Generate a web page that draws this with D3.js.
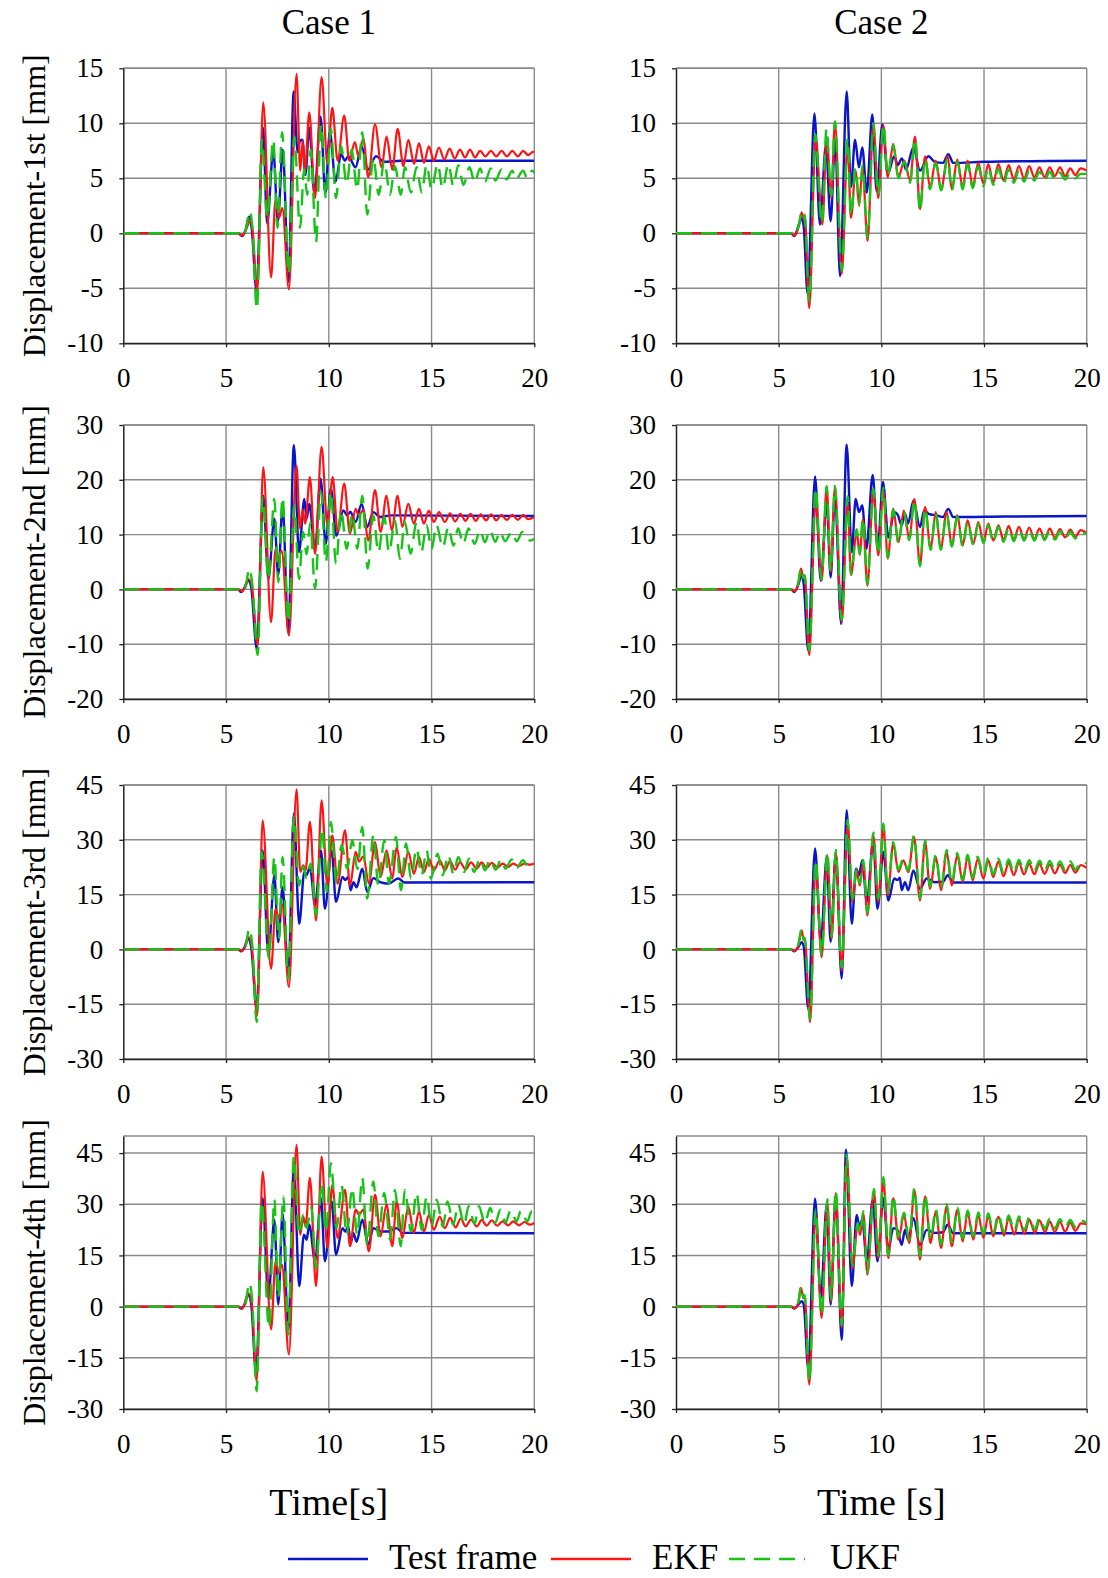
<!DOCTYPE html>
<html>
<head>
<meta charset="utf-8">
<script src="https://cdn.jsdelivr.net/npm/d3@7"></script>
<style>
  body { margin: 0; background: #fff; }
  svg { display: block; }
  text { font-family: "Liberation Serif", "Times New Roman", serif; fill: #000; }
</style>
</head>
<body>
<svg id="chart" width="1108" height="1578"></svg>
<script>
// ---- labels and ticks ----
const caseTitles = ["Case 1", "Case 2"];
const timeLabels = ["Time[s]", "Time [s]"];
const storyLabels = ["Displacement-1st [mm]", "Displacement-2nd [mm]", "Displacement-3rd [mm]", "Displacement-4th [mm]"];
const seriesNames = ["Test frame", "EKF", "UKF"];
const xTicks = [0, 5, 10, 15, 20];
const yTicksByStory = [
  [-10, -5, 0, 5, 10, 15],
  [-20, -10, 0, 10, 20, 30],
  [-30, -15, 0, 15, 30, 45],
  [-30, -15, 0, 15, 30, 45]
];
const yDomainsByStory = [[-10, 15], [-20, 30], [-30, 45], [-30, 50]];

// ---- displacement records [time s, displacement mm] ----
// Case 1, 1st storey
const c1s1Test = [[0,0],[5.6,0],[5.78,-0.25],[5.95,0.3],[6.12,1.5],[6.25,0.4],[6.48,-5.2],[6.8,9.6],[7.0,0.9],[7.3,7.5],[7.52,1.1],[7.76,7.6],[8.04,-4.4],[8.29,12.9],[8.48,7.4],[8.6,8.4],[8.72,8.5],[8.86,5.3],[9.05,9.6],[9.3,3.6],[9.6,10.6],[9.83,3.6],[10.05,9.2],[10.33,4.7],[10.6,7.2],[10.78,6.6],[10.95,7.0],[11.3,6.0],[11.6,7.9],[11.9,5.8],[12.3,7.0],[12.7,6.5],[13.5,6.6],[20,6.6]];
const c1s1EKF = [[0,0],[5.6,0],[5.8,-0.2],[6.05,0.7],[6.18,1.2],[6.28,0.5],[6.52,-5.2],[6.81,11.9],[7.19,-4.0],[7.41,3.1],[7.57,1.4],[7.74,2.3],[8.06,-5.1],[8.43,14.5],[8.61,5.7],[8.73,8.4],[8.84,5.7],[9.05,11.0],[9.33,3.2],[9.65,14.2],[9.93,6.3],[10.17,11.4],[10.43,6.6],[10.75,10.7],[11.0,6.6],[11.27,8.3],[11.44,7.0],[11.68,8.6],[11.92,5.1],[12.25,9.9],[12.57,6.0],[12.81,8.8],[13.09,5.8],[13.35,9.5],[13.63,6.1],[13.87,8.5],[14.15,6.3],[14.39,8.2],[14.63,6.4],[14.87,7.9],[15.11,6.6],[15.36,7.8],[15.62,6.7],[15.88,7.7],[16.13,6.8],[16.38,7.6],[16.63,6.9],[16.87,7.6],[17.12,6.9],[17.36,7.5],[17.62,7.0],[17.89,7.5],[18.15,7.0],[18.41,7.5],[18.67,7.0],[18.93,7.5],[19.2,7.0],[19.46,7.5],[19.7,7.1],[19.94,7.4],[20,7.4]];
const c1s1UKF = [[0,0],[5.6,0],[5.78,-0.3],[5.95,0.2],[6.15,2.0],[6.27,0.8],[6.5,-6.9],[6.75,8.5],[7.0,1.4],[7.3,8.5],[7.5,0.5],[7.73,9.2],[8.05,-3.7],[8.32,8.8],[8.6,0.5],[8.8,5.8],[8.95,3.5],[9.12,7.6],[9.38,-0.8],[9.62,9.9],[9.86,3.2],[10.1,9.5],[10.35,3.2],[10.6,7.9],[10.87,4.5],[11.11,7.6],[11.38,4.0],[11.63,9.2],[11.87,1.7],[12.17,6.9],[12.43,3.5],[12.7,6.6],[12.98,3.5],[13.22,6.1],[13.5,3.5],[13.7,6.0],[14.0,3.7],[14.27,6.0],[14.52,3.7],[14.76,6.2],[15.0,4.0],[15.3,6.3],[15.54,4.1],[15.82,6.3],[16.06,4.3],[16.3,6.2],[16.55,4.4],[16.85,6.0],[17.1,4.6],[17.36,5.9],[17.6,4.7],[17.89,5.9],[18.1,4.8],[18.41,5.8],[18.65,4.9],[18.93,5.7],[19.1,4.9],[19.46,5.7],[19.65,5.0],[19.9,5.7],[20,5.5]];

// Case 2, 1st storey
const c2s1Test = [[0,0],[5.6,0],[5.76,-0.25],[6.0,0.9],[6.12,1.4],[6.22,0.6],[6.41,-5.5],[6.74,10.9],[7.01,0.8],[7.3,8.0],[7.53,1.1],[7.75,8.5],[7.99,-3.9],[8.31,12.9],[8.52,4.2],[8.72,8.5],[8.91,6.0],[9.07,7.8],[9.29,3.7],[9.56,10.8],[9.77,3.8],[10.05,9.9],[10.31,5.4],[10.63,7.0],[10.8,6.2],[11.0,6.8],[11.2,5.8],[11.56,7.8],[11.88,5.7],[12.29,7.0],[12.6,6.5],[13.0,6.4],[13.26,7.2],[13.5,6.4],[15,6.5],[20,6.6]];
const c2s1EKF = [[0,0],[5.6,0],[5.78,-0.2],[6.0,0.8],[6.12,1.9],[6.2,1.4],[6.27,1.6],[6.49,-6.8],[6.8,8.7],[7.13,0.8],[7.34,8.8],[7.56,3.2],[7.74,10.1],[8.07,-3.7],[8.36,8.1],[8.52,1.4],[8.75,5.7],[8.92,2.5],[9.08,6.0],[9.33,-0.7],[9.61,9.9],[9.85,3.2],[10.1,9.8],[10.31,5.1],[10.58,8.1],[10.83,5.1],[11.12,6.6],[11.4,4.8],[11.64,8.8],[11.88,2.2],[12.13,7.0],[12.37,4.2],[12.65,6.6],[12.91,4.0],[13.23,7.0],[13.43,4.0],[13.7,6.7],[13.96,4.2],[14.2,6.6],[14.45,4.3],[14.72,6.4],[14.97,4.5],[15.21,6.3],[15.45,4.6],[15.7,6.3],[15.95,4.8],[16.2,6.2],[16.45,4.9],[16.7,6.1],[16.95,5.0],[17.2,6.1],[17.45,5.1],[17.7,6.0],[17.95,5.1],[18.2,6.0],[18.45,5.2],[18.7,6.0],[18.95,5.2],[19.2,5.9],[19.45,5.3],[19.7,5.9],[20,5.7]];
const c2s1UKF = [[0,0],[5.6,0],[5.78,-0.2],[6.0,0.9],[6.12,2.0],[6.2,1.5],[6.27,1.7],[6.49,-6.2],[6.78,9.0],[7.1,0.9],[7.33,9.5],[7.56,3.4],[7.74,10.2],[8.07,-3.4],[8.36,8.6],[8.52,1.6],[8.75,5.9],[8.92,2.7],[9.08,6.2],[9.33,-0.4],[9.61,10.0],[9.85,3.5],[10.1,9.9],[10.31,5.2],[10.58,8.0],[10.83,5.0],[11.12,6.5],[11.4,4.6],[11.64,8.6],[11.88,2.0],[12.13,6.8],[12.37,4.0],[12.65,6.4],[12.91,3.9],[13.23,6.8],[13.43,3.9],[13.7,6.5],[13.96,4.0],[14.2,6.3],[14.45,4.1],[14.72,6.1],[14.97,4.3],[15.21,6.0],[15.45,4.4],[15.7,5.9],[15.95,4.5],[16.2,5.8],[16.45,4.6],[16.7,5.7],[16.95,4.7],[17.2,5.7],[17.45,4.8],[17.7,5.6],[17.95,4.8],[18.2,5.6],[18.45,4.9],[18.7,5.5],[18.95,4.9],[19.2,5.5],[19.45,5.0],[19.7,5.4],[20,5.4]];

// Case 1, 2nd storey
const c1s2Test = [[0,0],[5.6,0],[5.73,-0.5],[5.9,0.3],[6.08,1.6],[6.22,0.5],[6.49,-10.8],[6.81,17.1],[7.06,1.9],[7.35,12.9],[7.54,2.6],[7.75,15.3],[8.03,-7.8],[8.3,26.3],[8.55,6.8],[8.81,16.5],[8.92,12.9],[9.05,15.6],[9.33,7.1],[9.6,20.2],[9.85,8.3],[10.1,18.4],[10.37,9.8],[10.71,14.4],[10.9,13.5],[11.05,14.2],[11.3,12.3],[11.6,15.6],[11.87,11.4],[12.17,14.1],[12.5,13.2],[13.0,13.5],[20,13.4]];
const c1s2EKF = [[0,0],[5.6,0],[5.8,-0.3],[6.08,1.9],[6.25,0.8],[6.54,-10.2],[6.81,22.3],[7.19,-6.0],[7.41,7.4],[7.54,5.6],[7.7,7.1],[8.06,-8.4],[8.43,22.6],[8.6,11.1],[8.73,14.5],[8.85,12.0],[9.08,20.5],[9.33,6.5],[9.65,26.0],[9.93,11.7],[10.19,20.5],[10.43,10.5],[10.75,19.3],[11.03,10.2],[11.31,14.7],[11.45,13.5],[11.68,14.5],[11.92,8.9],[12.25,18.1],[12.52,10.5],[12.81,17.1],[13.06,10.8],[13.35,17.1],[13.58,11.4],[13.87,15.6],[14.14,12.0],[14.39,14.7],[14.63,12.0],[14.87,14.4],[15.11,12.3],[15.36,14.1],[15.65,12.3],[15.9,13.9],[16.15,12.4],[16.4,13.8],[16.65,12.5],[16.9,13.8],[17.15,12.5],[17.4,13.7],[17.65,12.6],[17.9,13.7],[18.15,12.6],[18.4,13.6],[18.65,12.7],[18.93,13.6],[19.2,12.7],[19.46,13.6],[19.7,12.8],[20,13.2]];
const c1s2UKF = [[0,0],[5.6,0],[5.78,-0.5],[5.95,0.4],[6.13,3.8],[6.27,1.2],[6.54,-12.0],[6.78,16.8],[7.06,1.9],[7.35,16.5],[7.54,1.3],[7.75,16.8],[8.03,-6.0],[8.32,15.3],[8.55,1.9],[8.75,10.5],[8.92,6.4],[9.1,12.2],[9.33,0.1],[9.62,17.8],[9.86,5.0],[10.1,17.8],[10.35,4.7],[10.6,14.4],[10.87,7.4],[11.14,13.8],[11.39,7.4],[11.63,17.1],[11.89,3.8],[12.17,13.5],[12.41,6.8],[12.7,13.2],[12.93,6.8],[13.22,12.6],[13.46,5.6],[13.7,12.3],[13.98,6.5],[14.27,12.3],[14.5,6.8],[14.76,11.7],[15.0,7.4],[15.24,11.7],[15.55,7.7],[15.82,11.4],[16.06,8.0],[16.3,11.1],[16.54,8.3],[16.8,11.1],[17.1,8.3],[17.36,10.8],[17.6,8.6],[17.84,10.8],[18.1,8.7],[18.33,10.5],[18.58,8.8],[18.9,10.5],[19.15,8.8],[19.42,10.5],[19.8,8.9],[20,9.2]];

// Case 2, 2nd storey
const c2s2Test = [[0,0],[5.6,0],[5.76,-0.5],[5.95,0.8],[6.12,2.6],[6.22,1.0],[6.44,-11.1],[6.77,20.6],[7.05,1.6],[7.34,16.0],[7.53,2.2],[7.74,17.0],[8.04,-6.3],[8.31,26.4],[8.56,6.8],[8.75,16.5],[8.91,14.1],[9.07,15.3],[9.27,7.4],[9.58,20.9],[9.82,7.4],[10.08,19.6],[10.34,9.5],[10.63,14.1],[10.8,13.6],[10.99,11.7],[11.15,13.8],[11.3,12.0],[11.56,16.2],[11.88,11.4],[12.09,14.4],[12.3,13.8],[12.7,13.5],[13.0,13.2],[13.26,14.7],[13.5,13.2],[16,13.3],[20,13.4]];
const c2s2EKF = [[0,0],[5.6,0],[5.78,-0.3],[5.95,1.0],[6.09,3.8],[6.2,2.0],[6.27,2.5],[6.49,-12.0],[6.8,16.0],[7.09,1.6],[7.34,18.7],[7.53,3.2],[7.74,18.7],[8.07,-6.0],[8.36,15.9],[8.52,2.6],[8.8,10.5],[8.95,6.3],[9.1,12.8],[9.32,0.7],[9.61,18.1],[9.85,6.2],[10.1,18.1],[10.31,5.6],[10.58,14.7],[10.83,8.6],[11.1,14.4],[11.36,9.2],[11.61,16.5],[11.88,4.4],[12.13,15.0],[12.4,7.4],[12.65,14.1],[12.89,7.4],[13.18,14.1],[13.43,8.0],[13.7,13.5],[13.96,8.0],[14.2,12.6],[14.48,8.3],[14.72,12.3],[14.97,8.6],[15.21,12.0],[15.45,8.9],[15.7,11.7],[15.95,9.0],[16.2,11.6],[16.45,9.1],[16.7,11.4],[16.95,9.2],[17.2,11.3],[17.45,9.2],[17.7,11.1],[17.95,9.3],[18.2,11.1],[18.45,9.4],[18.7,11.0],[18.95,9.5],[19.2,10.9],[19.45,9.6],[19.7,10.8],[20,10.3]];
const c2s2UKF = [[0,0],[5.6,0],[5.78,-0.3],[5.95,1.1],[6.09,3.9],[6.2,2.1],[6.27,2.6],[6.49,-11.2],[6.8,18.5],[7.09,1.8],[7.34,18.9],[7.53,3.4],[7.74,18.9],[8.07,-5.6],[8.36,17.0],[8.52,2.8],[8.8,11.0],[8.95,6.5],[9.1,13.0],[9.32,1.0],[9.61,18.4],[9.85,6.4],[10.1,18.6],[10.31,5.8],[10.58,14.6],[10.83,8.4],[11.1,14.2],[11.36,9.0],[11.61,16.3],[11.88,4.2],[12.13,14.8],[12.4,7.2],[12.65,13.9],[12.89,7.2],[13.18,13.8],[13.43,7.8],[13.7,13.2],[13.96,7.8],[14.2,12.3],[14.48,8.1],[14.72,12.0],[14.97,8.4],[15.21,11.7],[15.45,8.6],[15.7,11.4],[15.95,8.7],[16.2,11.2],[16.45,8.8],[16.7,11.0],[16.95,8.9],[17.2,10.9],[17.45,8.9],[17.7,10.8],[17.95,9.0],[18.2,10.7],[18.45,9.1],[18.7,10.6],[18.95,9.2],[19.2,10.5],[19.45,9.3],[19.7,10.4],[20,10.1]];

// Case 1, 3rd storey
const c1s3Test = [[0,0],[5.6,0],[5.73,-0.5],[5.9,0.5],[6.08,2.9],[6.22,0.8],[6.49,-16.3],[6.78,27.1],[7.06,-1.6],[7.35,20.3],[7.54,2.0],[7.75,17.1],[8.03,-7.1],[8.3,37.2],[8.56,7.0],[8.81,21.2],[8.92,20.3],[9.08,22.6],[9.33,12.1],[9.62,27.1],[9.81,11.1],[10.14,27.1],[10.35,13.0],[10.67,19.8],[10.8,19.0],[10.95,19.8],[11.06,16.2],[11.2,18.4],[11.35,17.0],[11.63,22.1],[11.87,15.7],[12.17,19.5],[12.5,18.4],[12.9,18.0],[13.38,19.4],[13.7,18.3],[20,18.4]];
const c1s3EKF = [[0,0],[5.6,0],[5.8,-0.4],[6.08,3.4],[6.25,1.0],[6.52,-18.1],[6.78,35.3],[7.19,-5.3],[7.41,11.1],[7.57,8.4],[7.72,12.5],[8.06,-10.3],[8.43,43.8],[8.61,21.2],[8.76,23.0],[8.87,21.6],[9.08,34.9],[9.38,7.9],[9.65,40.8],[9.93,17.5],[10.17,31.2],[10.43,18.0],[10.79,32.6],[11.03,17.5],[11.31,26.7],[11.47,24.0],[11.68,25.5],[11.95,18.0],[12.25,29.4],[12.52,19.8],[12.81,27.1],[13.09,19.4],[13.3,28.0],[13.58,19.8],[13.87,26.7],[14.14,20.7],[14.39,25.3],[14.63,21.2],[14.87,24.8],[15.11,21.6],[15.4,24.4],[15.65,21.6],[15.9,24.2],[16.15,21.8],[16.38,23.9],[16.66,21.9],[16.92,23.8],[17.2,22.1],[17.44,23.8],[17.68,22.3],[17.93,23.7],[18.22,22.4],[18.45,23.5],[18.74,22.6],[18.97,23.5],[19.25,22.8],[19.52,23.5],[19.79,23.2],[20,23.5]];
const c1s3UKF = [[0,0],[5.6,0],[5.78,-0.5],[5.95,0.8],[6.13,5.7],[6.27,1.5],[6.49,-19.9],[6.73,26.7],[7.09,-2.6],[7.35,25.3],[7.57,2.9],[7.75,25.3],[8.03,-8.0],[8.3,36.3],[8.55,17.5],[8.76,22.6],[8.92,19.5],[9.12,23.5],[9.38,9.3],[9.68,33.1],[9.9,15.7],[10.1,34.9],[10.38,18.0],[10.62,28.5],[10.9,22.1],[11.14,29.9],[11.39,22.0],[11.63,33.5],[11.87,13.9],[12.17,31.2],[12.41,17.5],[12.7,29.9],[12.93,18.0],[13.27,30.8],[13.51,16.2],[13.76,29.0],[14.0,19.4],[14.27,27.6],[14.52,20.3],[14.76,27.1],[14.97,19.4],[15.3,26.2],[15.54,20.3],[15.82,25.8],[16.06,20.7],[16.3,25.3],[16.59,21.2],[16.82,24.8],[17.07,21.2],[17.36,24.8],[17.6,21.6],[17.84,24.6],[18.12,21.8],[18.38,24.6],[18.6,22.1],[18.9,24.6],[19.14,22.3],[19.45,24.4],[19.7,22.6],[20,23.5]];

// Case 2, 3rd storey
const c2s3Test = [[0,0],[5.6,0],[5.76,-0.5],[5.95,0.6],[6.12,2.0],[6.22,0.8],[6.44,-16.3],[6.77,27.6],[7.05,2.0],[7.34,25.3],[7.53,2.0],[7.78,26.2],[8.07,-8.0],[8.31,38.1],[8.56,7.0],[8.77,22.1],[8.91,20.3],[9.07,24.4],[9.29,13.0],[9.61,29.9],[9.81,11.1],[10.1,26.7],[10.34,13.4],[10.63,19.4],[10.78,19.0],[10.9,19.6],[10.99,16.2],[11.15,18.4],[11.31,16.2],[11.56,21.6],[11.88,16.6],[12.21,19.4],[12.6,18.4],[13.0,18.5],[13.23,20.3],[13.5,18.3],[20,18.3]];
const c2s3EKF = [[0,0],[5.6,0],[5.78,-0.4],[5.95,1.0],[6.12,5.2],[6.22,2.5],[6.27,3.0],[6.53,-19.9],[6.8,23.0],[7.09,-2.1],[7.37,25.8],[7.58,2.9],[7.78,26.7],[8.07,-5.8],[8.36,34.4],[8.59,13.0],[8.8,21.6],[8.95,17.5],[9.12,23.9],[9.32,9.3],[9.61,31.2],[9.85,13.0],[10.1,34.0],[10.31,14.8],[10.58,29.0],[10.83,21.2],[11.07,24.4],[11.31,21.2],[11.59,30.8],[11.88,13.4],[12.13,29.4],[12.37,16.6],[12.65,25.3],[12.91,16.2],[13.18,26.7],[13.43,17.5],[13.7,25.8],[13.96,18.4],[14.2,25.3],[14.45,18.9],[14.69,24.8],[14.97,19.4],[15.21,24.4],[15.45,19.8],[15.7,24.1],[15.95,20.0],[16.2,23.7],[16.45,20.3],[16.7,23.7],[16.95,20.5],[17.2,23.5],[17.45,20.6],[17.7,23.4],[17.95,20.7],[18.2,23.3],[18.45,20.8],[18.7,23.2],[18.95,20.9],[19.2,23.1],[19.45,21.0],[19.72,23.1],[20,22.3]];
const c2s3UKF = [[0,0],[5.6,0],[5.78,-0.4],[5.95,1.1],[6.12,5.6],[6.22,2.7],[6.27,3.2],[6.53,-19.0],[6.8,24.5],[7.09,-1.5],[7.37,26.5],[7.58,3.5],[7.78,27.2],[8.07,-5.0],[8.36,35.5],[8.59,13.8],[8.8,22.0],[8.95,18.0],[9.12,24.5],[9.32,10.0],[9.61,32.0],[9.85,13.8],[10.1,34.5],[10.31,15.5],[10.58,29.4],[10.83,21.8],[11.07,24.8],[11.31,21.6],[11.59,31.2],[11.88,14.0],[12.13,29.8],[12.37,17.2],[12.65,25.8],[12.91,16.8],[13.18,27.2],[13.43,18.2],[13.7,26.4],[13.96,19.0],[14.2,25.9],[14.45,19.6],[14.69,25.4],[14.97,20.1],[15.21,25.1],[15.45,20.5],[15.7,24.8],[15.95,20.8],[16.2,24.6],[16.45,21.0],[16.7,24.5],[16.95,21.2],[17.2,24.4],[17.45,21.4],[17.7,24.3],[17.95,21.5],[18.2,24.2],[18.45,21.6],[18.7,24.1],[18.95,21.7],[19.2,24.1],[19.45,21.8],[19.72,24.0],[20,23.5]];

// Case 1, 4th storey
const c1s4Test = [[0,0],[5.6,0],[5.73,-0.6],[5.9,0.6],[6.08,3.5],[6.22,1.0],[6.46,-19.4],[6.78,31.8],[7.06,2.5],[7.35,25.5],[7.54,0.6],[7.75,27.4],[8.03,-7.2],[8.3,41.6],[8.56,6.0],[8.79,21.1],[8.92,19.6],[9.05,24.0],[9.33,13.3],[9.62,31.8],[9.81,13.3],[10.14,30.8],[10.35,15.2],[10.67,23.0],[10.8,22.0],[10.95,23.5],[11.06,18.6],[11.2,21.5],[11.35,19.0],[11.63,25.5],[11.92,18.1],[12.17,23.0],[12.5,22.0],[12.9,22.0],[13.3,23.0],[13.6,21.6],[20,21.5]];
const c1s4EKF = [[0,0],[5.6,0],[5.8,-0.5],[6.08,4.0],[6.25,1.2],[6.49,-21.9],[6.78,39.6],[7.19,-6.7],[7.41,13.3],[7.57,9.9],[7.72,12.3],[8.06,-14.0],[8.43,47.4],[8.61,21.1],[8.76,26.4],[8.87,23.5],[9.08,37.7],[9.38,6.0],[9.65,44.0],[9.93,17.2],[10.17,35.7],[10.43,20.1],[10.79,34.2],[11.03,17.7],[11.31,28.4],[11.47,26.9],[11.68,28.4],[11.95,16.2],[12.25,32.8],[12.52,20.6],[12.81,29.9],[13.09,17.7],[13.3,30.8],[13.58,20.1],[13.87,29.4],[14.14,21.6],[14.39,27.9],[14.63,22.0],[14.87,26.9],[15.11,22.5],[15.4,26.4],[15.65,23.0],[15.9,26.0],[16.17,23.2],[16.42,25.8],[16.66,23.5],[16.92,25.5],[17.2,23.5],[17.44,25.4],[17.68,23.7],[17.93,25.3],[18.2,23.7],[18.45,25.0],[18.74,23.8],[18.97,25.0],[19.25,23.8],[19.52,24.8],[19.79,24.0],[20,24.5]];
const c1s4UKF = [[0,0],[5.6,0],[5.78,-0.6],[5.95,1.0],[6.13,6.9],[6.27,2.0],[6.49,-24.8],[6.73,30.8],[7.09,-6.2],[7.35,31.3],[7.54,2.5],[7.79,32.3],[8.03,-8.2],[8.3,44.0],[8.55,21.1],[8.76,27.0],[8.92,23.0],[9.15,29.0],[9.38,11.3],[9.65,36.2],[9.87,22.0],[10.1,42.0],[10.38,23.0],[10.62,35.7],[10.87,21.1],[11.14,34.7],[11.38,21.1],[11.63,37.7],[11.87,18.1],[12.17,36.7],[12.41,20.6],[12.7,33.3],[12.98,19.6],[13.22,34.2],[13.5,17.7],[13.7,34.2],[14.0,22.0],[14.27,33.3],[14.52,22.5],[14.76,32.3],[15.0,23.5],[15.25,31.3],[15.55,23.5],[15.78,30.8],[16.06,24.0],[16.3,29.9],[16.59,24.0],[16.8,29.4],[17.1,24.3],[17.3,29.4],[17.6,24.5],[17.85,28.9],[18.1,24.6],[18.35,28.4],[18.6,24.7],[18.85,28.2],[19.14,25.0],[19.35,28.1],[19.66,25.0],[19.87,27.9],[20,27.7]];

// Case 2, 4th storey
const c2s4Test = [[0,0],[5.6,0],[5.76,-0.6],[5.95,0.5],[6.12,1.6],[6.22,0.6],[6.44,-18.0],[6.77,31.6],[7.05,2.5],[7.34,29.9],[7.53,0.6],[7.78,32.3],[8.07,-9.7],[8.28,46.0],[8.56,6.0],[8.8,26.9],[8.93,23.5],[9.07,25.5],[9.29,13.3],[9.58,31.3],[9.81,13.3],[10.1,31.8],[10.34,16.7],[10.58,23.0],[10.78,22.5],[10.99,18.1],[11.15,22.5],[11.31,19.6],[11.56,26.0],[11.88,18.1],[12.21,22.5],[12.6,21.6],[13.0,21.8],[13.23,24.0],[13.5,21.5],[20,21.5]];
const c2s4EKF = [[0,0],[5.6,0],[5.78,-0.5],[5.95,1.0],[6.09,5.5],[6.2,2.5],[6.27,3.0],[6.49,-22.8],[6.8,26.9],[7.09,-3.3],[7.37,30.8],[7.55,1.5],[7.78,33.3],[8.07,-6.2],[8.31,43.5],[8.59,11.3],[8.85,24.0],[8.97,21.0],[9.12,27.4],[9.32,9.4],[9.64,33.8],[9.85,14.2],[10.1,37.2],[10.34,14.2],[10.58,31.8],[10.83,19.6],[11.1,26.9],[11.36,18.6],[11.61,34.2],[11.88,13.8],[12.13,32.3],[12.4,18.6],[12.65,27.9],[12.91,17.2],[13.18,29.4],[13.43,17.7],[13.7,28.4],[13.96,19.1],[14.2,27.4],[14.48,19.6],[14.72,26.9],[14.97,20.1],[15.21,26.7],[15.45,20.6],[15.7,26.4],[15.97,20.8],[16.2,26.0],[16.48,21.1],[16.7,25.8],[16.97,21.3],[17.2,25.5],[17.48,21.6],[17.7,25.3],[17.97,21.8],[18.2,25.0],[18.45,21.9],[18.7,24.8],[18.95,22.0],[19.2,24.6],[19.45,22.2],[19.72,24.4],[20,24.2]];
const c2s4UKF = [[0,0],[5.6,0],[5.78,-0.5],[5.95,1.1],[6.09,6.0],[6.2,2.8],[6.27,3.4],[6.49,-22.0],[6.8,28.5],[7.09,-2.5],[7.37,31.5],[7.55,2.2],[7.78,34.0],[8.07,-5.5],[8.31,44.5],[8.59,12.0],[8.85,24.5],[8.97,21.5],[9.12,28.0],[9.32,10.0],[9.64,34.5],[9.85,15.0],[10.1,38.0],[10.34,15.0],[10.58,32.5],[10.83,20.5],[11.1,27.5],[11.36,19.5],[11.61,34.8],[11.88,14.8],[12.13,32.8],[12.4,19.6],[12.65,28.6],[12.91,18.2],[13.18,30.0],[13.43,18.8],[13.7,29.0],[13.96,20.0],[14.2,28.2],[14.48,20.6],[14.72,27.6],[14.97,21.2],[15.21,27.4],[15.45,21.6],[15.7,27.0],[15.97,21.9],[16.2,26.7],[16.48,22.2],[16.7,26.4],[16.97,22.5],[17.2,26.2],[17.48,22.7],[17.7,26.0],[17.97,22.9],[18.2,25.8],[18.45,23.0],[18.7,25.6],[18.95,23.2],[19.2,25.4],[19.45,23.3],[19.72,25.2],[20,24.6]];

// panel grid: rows = storeys, columns = cases
const panelSeries = [
  [[c1s1Test, c1s1EKF, c1s1UKF], [c2s1Test, c2s1EKF, c2s1UKF]],
  [[c1s2Test, c1s2EKF, c1s2UKF], [c2s2Test, c2s2EKF, c2s2UKF]],
  [[c1s3Test, c1s3EKF, c1s3UKF], [c2s3Test, c2s3EKF, c2s3UKF]],
  [[c1s4Test, c1s4EKF, c1s4UKF], [c2s4Test, c2s4EKF, c2s4UKF]]
];

// ---- layout and styling ----
const serif = '"Liberation Serif", "Times New Roman", serif';
const colX = [[123.3, 534.3], [676, 1086.7]];
const rowY = [[68.3, 343.3], [425, 699], [785, 1059], [1136, 1409]];
const lineStyles = [
  { color: "#0a14c8", width: 2.4, dash: null },
  { color: "#ff1414", width: 2.2, dash: null },
  { color: "#16c416", width: 2.4, dash: "16,9" }
];
const gridColor = "#8a8a8a";
const axisColor = "#222";

const svg = d3.select("#chart");

rowY.forEach((ry, r) => {
  colX.forEach((cx, c) => {
    const x = d3.scaleLinear().domain([0, 20]).range(cx);
    const y = d3.scaleLinear().domain(yDomainsByStory[r]).range([ry[1], ry[0]]);
    const g = svg.append("g");
    const clipId = `clip-${r}-${c}`;
    g.append("clipPath").attr("id", clipId).append("rect")
      .attr("x", cx[0]).attr("y", ry[0]).attr("width", cx[1] - cx[0]).attr("height", ry[1] - ry[0]);

    // grid and frame
    const grid = g.append("g").attr("stroke", gridColor).attr("stroke-width", 1.4);
    grid.selectAll("line.h").data(yTicksByStory[r].concat([yDomainsByStory[r][1]])).join("line")
      .attr("class", "h").attr("x1", cx[0]).attr("x2", cx[1]).attr("y1", d => y(d)).attr("y2", d => y(d));
    grid.selectAll("line.v").data(xTicks.slice(1)).join("line")
      .attr("class", "v").attr("y1", ry[0]).attr("y2", ry[1]).attr("x1", d => x(d)).attr("x2", d => x(d));

    // axes
    const fmt = d => String(d);
    const ax = g.append("g").attr("transform", `translate(0,${ry[1]})`)
      .call(d3.axisBottom(x).tickValues(xTicks).tickFormat(fmt).tickSize(4).tickSizeOuter(0).tickPadding(21));
    const ay = g.append("g").attr("transform", `translate(${cx[0]},0)`)
      .call(d3.axisLeft(y).tickValues(yTicksByStory[r]).tickFormat(fmt).tickSize(4).tickSizeOuter(0).tickPadding(16));
    [ax, ay].forEach(a => {
      a.attr("font-family", null).attr("font-size", null);
      a.select(".domain").attr("stroke", axisColor).attr("stroke-width", 1.5);
      a.selectAll(".tick line").attr("stroke", axisColor).attr("stroke-width", 1.3);
      a.selectAll(".tick text").style("font-family", serif).style("font-size", "27px").attr("fill", "#000");
    });

    // series
    const line = d3.line().x(d => x(d[0])).y(d => y(d[1])).curve(d3.curveMonotoneX);
    const sg = g.append("g").attr("clip-path", `url(#${clipId})`);
    panelSeries[r][c].forEach((data, k) => {
      const st = lineStyles[k];
      sg.append("path").datum(data)
        .attr("d", line).attr("fill", "none")
        .attr("stroke", st.color).attr("stroke-width", st.width)
        .attr("stroke-linejoin", "round")
        .attr("stroke-dasharray", st.dash);
    });
  });

  // storey label on the left column
  const cy = (ry[0] + ry[1]) / 2;
  svg.append("text").attr("transform", `translate(45,${cy}) rotate(-90)`)
    .attr("text-anchor", "middle").style("font-family", serif).style("font-size", "32px").text(storyLabels[r]);
});

// case titles and time labels
colX.forEach((cx, c) => {
  const mid = (cx[0] + cx[1]) / 2;
  svg.append("text").attr("x", mid).attr("y", 34).attr("text-anchor", "middle")
    .style("font-family", serif).style("font-size", "35px").text(caseTitles[c]);
  svg.append("text").attr("x", mid).attr("y", 1515).attr("text-anchor", "middle")
    .style("font-family", serif).style("font-size", "38px").text(timeLabels[c]);
});

// legend
const legendItems = [
  { x0: 288, x1: 368, tx: 389 },
  { x0: 551, x1: 631, tx: 652 },
  { x0: 729, x1: 805, tx: 830 }
];
const legendY = 1559;
const lg = svg.append("g");
seriesNames.forEach((name, k) => {
  const it = legendItems[k], st = lineStyles[k];
  lg.append("line").attr("x1", it.x0).attr("x2", it.x1).attr("y1", legendY).attr("y2", legendY)
    .attr("stroke", st.color).attr("stroke-width", 2.5).attr("stroke-dasharray", st.dash);
  lg.append("text").attr("x", it.tx).attr("y", legendY + 10)
    .style("font-family", serif).style("font-size", "35px").text(name);
});
</script>
</body>
</html>
